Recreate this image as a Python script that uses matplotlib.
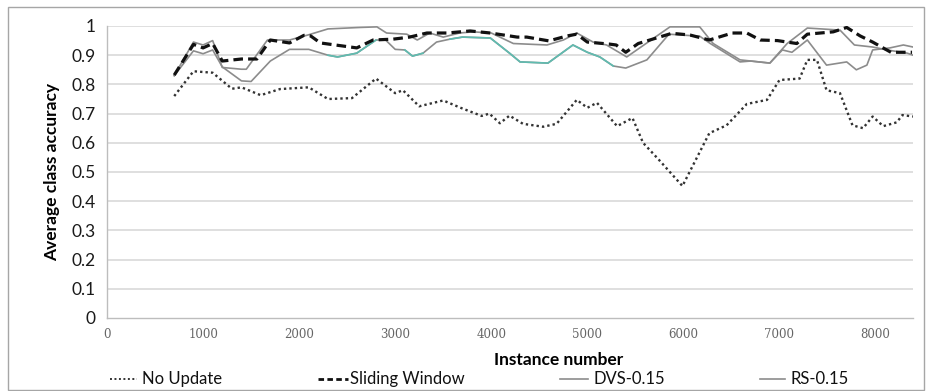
import numpy as np
import matplotlib
matplotlib.use("Agg")
import matplotlib.pyplot as plt
from matplotlib.lines import Line2D
from matplotlib.patches import Rectangle

# ---- data -------------------------------------------------------------
no_update_x = [700, 900, 1100, 1300, 1400, 1600, 1800, 2100, 2300, 2550, 2800,
               3000, 3080, 3250, 3500, 3680, 3900, 3980, 4090, 4190, 4330, 4540,
               4680, 4890, 5000, 5100, 5310, 5470, 5580, 5750, 5990, 6270, 6450,
               6660, 6870, 7000, 7210, 7290, 7390, 7490, 7630, 7760, 7870, 7970,
               8080, 8220, 8280, 8390]
no_update_y = [0.76, 0.845, 0.84, 0.785, 0.79, 0.763, 0.784, 0.79, 0.75, 0.753, 0.82,
               0.77, 0.78, 0.725, 0.745, 0.72, 0.692, 0.70, 0.667, 0.693, 0.665, 0.655,
               0.665, 0.747, 0.72, 0.737, 0.657, 0.685, 0.60, 0.54, 0.452, 0.633, 0.66,
               0.733, 0.747, 0.815, 0.82, 0.884, 0.884, 0.78, 0.77, 0.66, 0.65, 0.69,
               0.657, 0.67, 0.695, 0.69]

sliding_x = [700, 900, 1000, 1100, 1200, 1400, 1560, 1700, 1900, 2050, 2120, 2220,
             2600, 2770, 2980, 3150, 3330, 3540, 3780, 3990, 4270, 4370, 4600, 4790,
             4890, 5000, 5230, 5300, 5400, 5530, 5720, 5880, 6070, 6270, 6510, 6660,
             6800, 6980, 7180, 7290, 7560, 7700, 7840, 7970, 8160, 8380]
sliding_y = [0.832, 0.937, 0.925, 0.94, 0.88, 0.887, 0.887, 0.952, 0.942, 0.968, 0.966, 0.942,
             0.925, 0.952, 0.955, 0.962, 0.976, 0.976, 0.983, 0.976, 0.962, 0.962, 0.949, 0.966,
             0.972, 0.945, 0.938, 0.935, 0.91, 0.94, 0.959, 0.975, 0.969, 0.952, 0.976, 0.976,
             0.952, 0.95, 0.94, 0.972, 0.98, 0.995, 0.966, 0.945, 0.91, 0.91]

dvs_x = [700, 900, 1000, 1100, 1200, 1400, 1450, 1670, 1900, 2100, 2300, 2630, 2810,
         2910, 3120, 3230, 3360, 3500, 3670, 3810, 4000, 4230, 4580, 4750, 4890, 5060,
         5200, 5410, 5860, 6170, 6310, 6590, 6900, 7080, 7290, 7630, 7780, 7970, 8120,
         8330, 8390]
dvs_y = [0.83, 0.945, 0.935, 0.95, 0.858, 0.852, 0.852, 0.952, 0.952, 0.97, 0.99, 0.995, 0.997,
         0.976, 0.972, 0.952, 0.976, 0.962, 0.976, 0.98, 0.976, 0.94, 0.935, 0.952, 0.976, 0.945,
         0.935, 0.894, 0.997, 0.997, 0.94, 0.884, 0.873, 0.94, 0.993, 0.986, 0.935, 0.928, 0.918,
         0.907, 0.90]

rs_x = [700, 900, 1000, 1100, 1200, 1400, 1500, 1700, 1900, 2100, 2300, 2400, 2600,
        2800, 2900, 3000, 3100, 3180, 3290, 3430, 3570, 3700, 3990, 4190, 4300, 4590,
        4850, 5000, 5130, 5270, 5400, 5620, 5850, 6170, 6280, 6590, 6700, 6900, 7030,
        7130, 7290, 7490, 7700, 7800, 7910, 7970, 8150, 8290, 8390]
rs_y = [0.83, 0.915, 0.905, 0.918, 0.86, 0.812, 0.81, 0.88, 0.92, 0.92, 0.90, 0.894, 0.907,
        0.952, 0.952, 0.92, 0.918, 0.897, 0.907, 0.945, 0.955, 0.962, 0.959, 0.907, 0.877, 0.873,
        0.935, 0.91, 0.894, 0.863, 0.856, 0.884, 0.972, 0.965, 0.94, 0.877, 0.88, 0.873, 0.918,
        0.91, 0.952, 0.866, 0.877, 0.85, 0.866, 0.918, 0.925, 0.935, 0.928]

# stretches of the RS curve rendered in its teal tint
rs_tint_ranges = [(2300, 2800), (3100, 3300), (3550, 5300)]

y_ticks = [0, 0.1, 0.2, 0.3, 0.4, 0.5, 0.6, 0.7, 0.8, 0.9, 1]
y_tick_labels = ["0", "0.1", "0.2", "0.3", "0.4", "0.5", "0.6", "0.7", "0.8", "0.9", "1"]
x_ticks = [0, 1000, 2000, 3000, 4000, 5000, 6000, 7000, 8000]
x_tick_labels = ["0", "1000", "2000", "3000", "4000", "5000", "6000", "7000", "8000"]

legend_labels = ["No Update", "Sliding Window", "DVS-0.15", "RS-0.15"]

# ---- figure -----------------------------------------------------------
W, H = 930, 391
fig = plt.figure(figsize=(W / 100, H / 100), dpi=100)
fig.patch.set_facecolor("white")

def fx(px):
    return px / W

def fy(py):
    return 1 - py / H

left, right, top, bottom = 107, 913, 26, 318
ax = fig.add_axes([fx(left), fy(bottom), fx(right) - fx(left), fy(top) - fy(bottom)])
ax.set_xlim(0, 8390)
ax.set_ylim(0, 1)

ax.set_yticks(y_ticks)
ax.set_yticklabels(y_tick_labels, fontfamily="Lato", fontsize=12.5, color="#1a1a1a")
ax.set_xticks(x_ticks)
ax.set_xticklabels(x_tick_labels, fontfamily="DejaVu Serif", fontsize=8.5, color="#666666")
ax.tick_params(axis="both", length=0)
ax.tick_params(axis="y", pad=8)
ax.tick_params(axis="x", pad=7)

for v in y_ticks[1:]:
    ax.axhline(v, color="#d6d6d6", lw=1.1, zorder=0)
for s in ["top", "right"]:
    ax.spines[s].set_visible(False)
ax.spines["left"].set_color("#bdbdbd")
ax.spines["bottom"].set_color("#bdbdbd")
ax.spines["left"].set_linewidth(1.0)
ax.spines["bottom"].set_linewidth(1.0)

gray = "#8c8c8c"
teal = "#5fbcb0"
dot_style = (0, (1.0, 1.3))

ax.plot(no_update_x, no_update_y, color="#333333", lw=1.7, linestyle=dot_style,
        dash_capstyle="butt", zorder=3)
ax.plot(dvs_x, dvs_y, color=gray, lw=1.2, zorder=2)
ax.plot(rs_x, rs_y, color=gray, lw=1.2, zorder=2)

rs_xa = np.array(rs_x, dtype=float)
rs_ya = np.array(rs_y, dtype=float)
for a, b in rs_tint_ranges:
    m = (rs_xa >= a) & (rs_xa <= b)
    ax.plot(rs_xa[m], rs_ya[m], color=teal, lw=1.2, zorder=2.1)

ax.plot(sliding_x, sliding_y, color="#111111", lw=2.3, linestyle=(0, (3.0, 1.6)), zorder=4)

ax.set_ylabel("Average class accuracy", fontfamily="Lato", fontweight="bold", fontsize=12.5,
              labelpad=8)
ax.set_xlabel("")
fig.text(fx(559), fy(360), "Instance number", fontfamily="Lato", fontweight="bold",
         fontsize=12.5, ha="center", va="center")

# ---- legend -----------------------------------------------------------
leg_y = fy(379)
entries = [
    (110, 137, 142, dict(color="#333333", lw=1.4, linestyle=dot_style, dash_capstyle="butt")),
    (318, 348, 350, dict(color="#111111", lw=2.0, linestyle=(0, (2.0, 1.2)))),
    (560, 588, 593, dict(color=gray, lw=1.2)),
    (760, 785, 790, dict(color=gray, lw=1.2)),
]
for (x0, x1, tx, style), lab in zip(entries, legend_labels):
    fig.add_artist(Line2D([fx(x0), fx(x1)], [leg_y, leg_y], transform=fig.transFigure, **style))
    fig.text(fx(tx), leg_y, lab, fontfamily="Lato", fontsize=12, ha="left", va="center",
             color="#111111")

# chart-area border
fig.add_artist(Rectangle((fx(8), fy(390)), fx(924) - fx(8), fy(7) - fy(390),
                         transform=fig.transFigure, fill=False, edgecolor="#a6a6a6", lw=1.0))

fig.savefig("out.png", dpi=100, facecolor="white")
